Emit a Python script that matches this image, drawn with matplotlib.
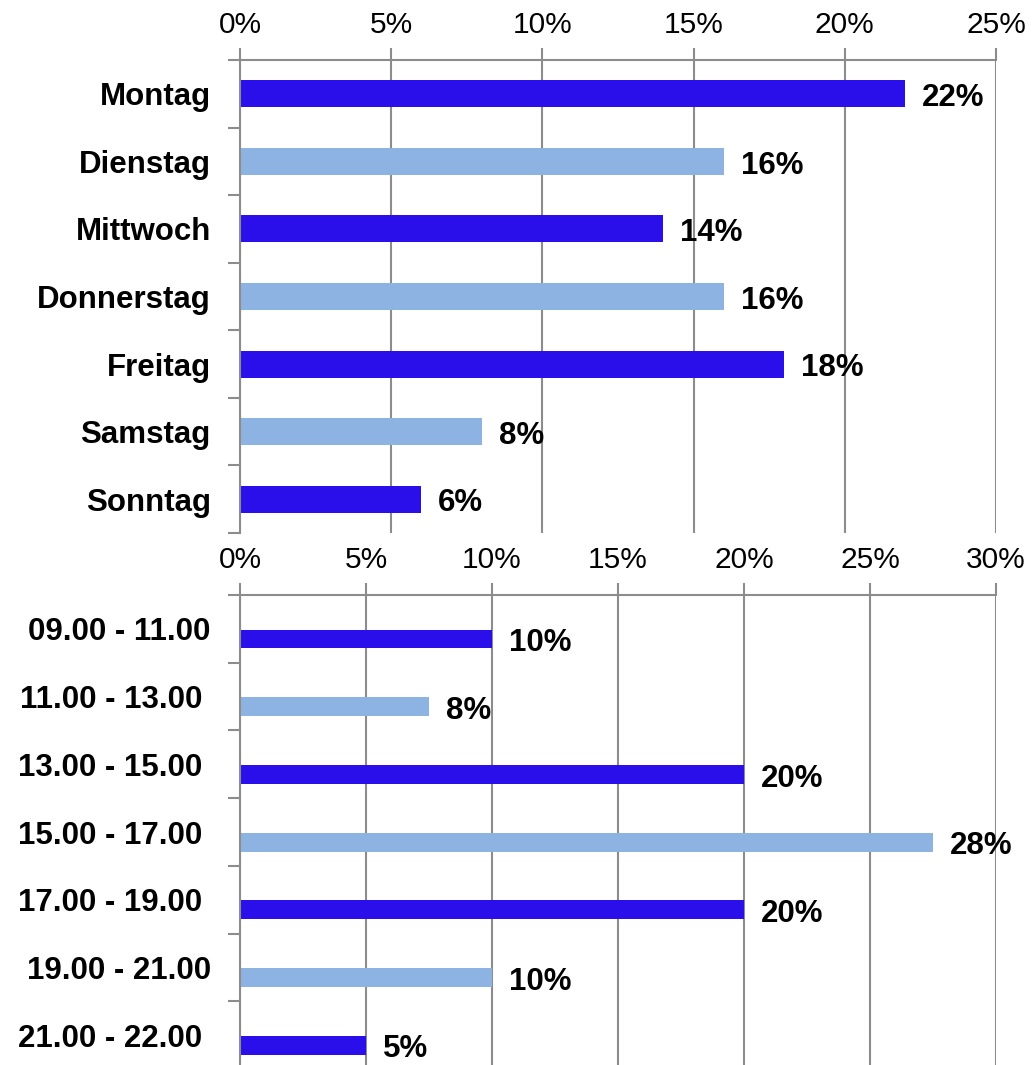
import matplotlib
matplotlib.use('Agg')
import matplotlib.pyplot as plt
import numpy as np

plt.rcParams['font.family'] = ['Liberation Sans', 'DejaVu Sans']

# weekday shares (%)
days = ['Montag', 'Dienstag', 'Mittwoch', 'Donnerstag', 'Freitag', 'Samstag', 'Sonntag']
day_vals = [22, 16, 14, 16, 18, 8, 6]
day_ticks = [0, 5, 10, 15, 20, 25]

# time slot shares (%)
slots = ['09.00 - 11.00', '11.00 - 13.00 ', '13.00 - 15.00 ', '15.00 - 17.00 ',
         '17.00 - 19.00 ', '19.00 - 21.00', '21.00 - 22.00 ']
slot_vals = [10, 7.5, 20, 27.5, 20, 10, 5]
slot_ticks = [0, 5, 10, 15, 20, 25, 30]

dark = '#2B0FEB'
light = '#8DB3E2'
grey = '#8C8C8C'

W, H = 1036, 1065
fig = plt.figure(figsize=(W / 100, H / 100), dpi=100)


def style(ax, ticks, n):
    ax.set_xlim(ticks[0], ticks[-1])
    ax.set_ylim(n - 0.5, -0.5)
    ax.xaxis.tick_top()
    ax.set_xticks(ticks)
    ax.set_xticklabels([f'{t}%' for t in ticks], fontsize=21.5)
    ax.tick_params(axis='x', length=9, width=1.5, color=grey, pad=6)
    ax.grid(axis='x', color=grey, linewidth=1.5)
    ax.set_axisbelow(True)
    ax.set_yticks(np.arange(n))
    ax.set_yticks(np.arange(n + 1) - 0.5, minor=True)
    ax.tick_params(axis='y', which='major', length=0, pad=21)
    ax.tick_params(axis='y', which='minor', length=9, width=1.5, color=grey)
    for s in ['right', 'bottom']:
        ax.spines[s].set_visible(False)
    for s in ['top', 'left']:
        ax.spines[s].set_color(grey)
        ax.spines[s].set_linewidth(1.5)


def value_labels(ax, ys, vals):
    for y, v in zip(ys, vals):
        ax.annotate(f'{v:.0f}%', (v, y), xytext=(12, -3), textcoords='offset points',
                    ha='left', va='center', fontsize=22.5, fontweight='bold')


# top chart: weekdays
ax1 = fig.add_axes([240 / W, 1 - 533 / H, 756 / W, 473 / H])
y1 = np.arange(len(days))
cols1 = [dark if i % 2 == 0 else light for i in range(len(days))]
ax1.barh(y1, day_vals, height=0.4, color=cols1)
style(ax1, day_ticks, len(days))
ax1.set_yticklabels(days, fontsize=22.5, fontweight='bold')
value_labels(ax1, y1, day_vals)

# bottom chart: time slots
ax2 = fig.add_axes([240 / W, 1 - 1069 / H, 756 / W, 474 / H])
y2 = np.arange(len(slots)) + 0.15
cols2 = [dark if i % 2 == 0 else light for i in range(len(slots))]
ax2.barh(y2, slot_vals, height=0.28, color=cols2)
style(ax2, slot_ticks, len(slots))
ax2.set_yticklabels(slots, fontsize=22.5, fontweight='bold')
value_labels(ax2, y2, slot_vals)

fig.savefig('out.png', dpi=100)
